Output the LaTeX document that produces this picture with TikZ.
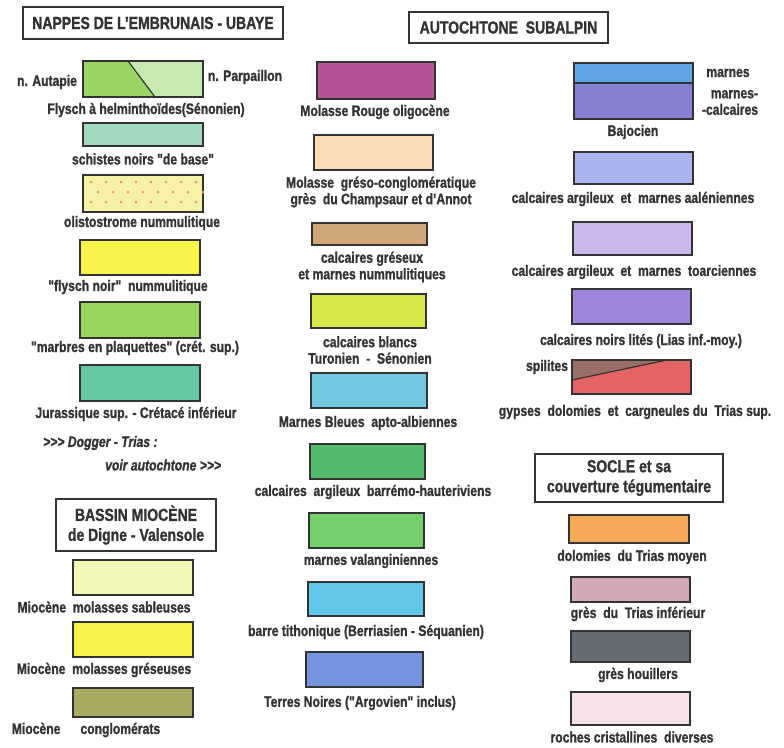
\documentclass[tikz,border=0pt]{standalone}
\usepackage{fontspec}
\setmainfont[FakeStretch=0.8, BoldFeatures={FakeBold=1.2}, BoldItalicFeatures={FakeBold=1.2}]{Liberation Sans}
\newfontfamily\plainfont[FakeStretch=0.8, BoldFeatures={FakeBold=1.2}, Ligatures=ResetAll]{Liberation Sans}
\definecolor{autapie}{HTML}{9AD465}
\definecolor{parpaillon}{HTML}{C8EAB0}
\definecolor{schistes}{HTML}{A3D9BD}
\definecolor{olisto}{HTML}{F8F2A8}
\definecolor{olistodot}{HTML}{EE9A50}
\definecolor{flyschnoir}{HTML}{F8F54A}
\definecolor{marbres}{HTML}{97D55F}
\definecolor{jurassique}{HTML}{66C7A3}
\definecolor{molrouge}{HTML}{B4559A}
\definecolor{molgreso}{HTML}{F8DDB8}
\definecolor{calcgres}{HTML}{D0A77A}
\definecolor{calcblancs}{HTML}{DBE84C}
\definecolor{marnesbleues}{HTML}{74C9E2}
\definecolor{barremo}{HTML}{52BA6A}
\definecolor{valangin}{HTML}{74D06A}
\definecolor{tithon}{HTML}{62C8EA}
\definecolor{terresnoires}{HTML}{7494DE}
\definecolor{bajotop}{HTML}{5EA6E4}
\definecolor{bajobot}{HTML}{8580D4}
\definecolor{aalen}{HTML}{AAB4EF}
\definecolor{toarc}{HTML}{CBB6EE}
\definecolor{calcnoirs}{HTML}{A084DC}
\definecolor{spilbrun}{HTML}{9A6E68}
\definecolor{triasrouge}{HTML}{E46464}
\definecolor{dolomies}{HTML}{F5AA58}
\definecolor{gresinf}{HTML}{D2A8B6}
\definecolor{houiller}{HTML}{646C74}
\definecolor{cristal}{HTML}{F6E0EA}
\definecolor{miosable}{HTML}{F3F7B6}
\definecolor{miogres}{HTML}{F6F44A}
\definecolor{congl}{HTML}{AAAA62}
\definecolor{ink}{HTML}{333333}
\newcommand{\dq}{{\plainfont\bfseries"}}
\begin{document}
\begin{tikzpicture}[x=1pt, y=-1pt,
    swatch/.style={draw=ink, line width=1.8pt},
    lbl/.style={text=ink, inner sep=0pt, font=\bfseries\fontsize{15.2}{16.5}\selectfont, align=center},
    titlebox/.style={draw=ink, line width=1.3pt, text=ink, inner sep=0pt, align=center,
        font=\bfseries\fontsize{17.5}{20}\selectfont}]
    \useasboundingbox (0,0) rectangle (784,747);
    % titres
    \node[titlebox, minimum width=260, minimum height=32] (nappes) at (153,23) {NAPPES DE L\symbol{39}EMBRUNAIS - UBAYE};
    \node[titlebox, minimum width=199, minimum height=31] (autoch) at (508.5,27.5) {AUTOCHTONE\ \ SUBALPIN};
    \node[titlebox, minimum width=160, minimum height=52] (bassin) at (136,525) {BASSIN MIOCÈNE\\de Digne - Valensole};
    \node[titlebox, minimum width=188, minimum height=48] (socle) at (629,478) {SOCLE et sa\\couverture tégumentaire};

    % nappes
    \fill[autapie] (83,61) -- (128,61) -- (155,97) -- (83,97) -- cycle;
    \fill[parpaillon] (128,61) -- (203,61) -- (203,97) -- (155,97) -- cycle;
    \draw[ink, line width=1.2pt] (128,61) -- (155,97);
    \draw[swatch] (83,61) rectangle (203,97);
    \node[lbl] (autapieL) at (47,82) {n. Autapie};
    \node[lbl] (parpL) at (245,77) {n. Parpaillon};
    \node[lbl] (flyschL) at (146,110) {Flysch à helminthoïdes(Sénonien)};
    \filldraw[swatch, fill=schistes] (83,123) rectangle (203,146);
    \node[lbl] (schistesL) at (143,159) {schistes noirs \dq de base\dq};
    \filldraw[swatch, fill=olisto] (83,175) rectangle (203,212);
    \foreach \i in {0,...,7} {
        \fill[olistodot] (91+15*\i,182) circle (1.5);
        \fill[olistodot] (98+15*\i,192) circle (1.5);
        \fill[olistodot] (91+15*\i,202) circle (1.5);
    }
    \node[lbl] (olistoL) at (142,223) {olistostrome nummulitique};
    \filldraw[swatch, fill=flyschnoir] (80,240) rectangle (200,275);
    \node[lbl] (flyschnoirL) at (128,287) {\dq flysch noir\dq\ \ nummulitique};
    \filldraw[swatch, fill=marbres] (80,302) rectangle (200,338);
    \node[lbl] (marbresL) at (135,348) {\dq marbres en plaquettes\dq\ (crét. sup.)};
    \filldraw[swatch, fill=jurassique] (80,365) rectangle (200,401);
    \node[lbl] (jurassL) at (136,414) {Jurassique sup. - Crétacé inférieur};
    \node[lbl, anchor=west, font=\bfseries\itshape\fontsize{15.2}{16.5}\selectfont] (doggerL) at (43,443) {>{}>{}> Dogger - Trias :};
    \node[lbl, anchor=west, font=\bfseries\itshape\fontsize{15.2}{16.5}\selectfont] (voirL) at (105,465) {voir autochtone >{}>{}>};

    % bassin miocene
    \filldraw[swatch, fill=miosable] (73,560) rectangle (193,595);
    \node[lbl] (sableL) at (104,607) {Miocène\ \ molasses sableuses};
    \filldraw[swatch, fill=miogres] (73,622) rectangle (193,657);
    \node[lbl] (gresL) at (104,670) {Miocène\ \ molasses gréseuses};
    \filldraw[swatch, fill=congl] (73,688) rectangle (193,717);
    \node[lbl] (conglL) at (86,730) {Miocène\hspace{20pt}conglomérats};

    % autochtone, colonne du milieu
    \filldraw[swatch, fill=molrouge] (317,62) rectangle (435,99);
    \node[lbl] (molrougeL) at (375,112) {Molasse Rouge oligocène};
    \filldraw[swatch, fill=molgreso] (314,135) rectangle (433,170);
    \node[lbl] (molgresoL) at (381,192) {Molasse\ \ gréso-conglomératique\\grès\ \ du Champsaur et d\symbol{39}Annot};
    \filldraw[swatch, fill=calcgres] (312,223) rectangle (427,245);
    \node[lbl] (calcgresL) at (372,267) {calcaires gréseux\\et marnes nummulitiques};
    \filldraw[swatch, fill=calcblancs] (311,294) rectangle (426,328);
    \node[lbl] (calcblancsL) at (370,350) {calcaires blancs\\Turonien\ \ -\ \ Sénonien};
    \filldraw[swatch, fill=marnesbleues] (311,373) rectangle (427,408);
    \node[lbl] (marnesbleuesL) at (368,423) {Marnes Bleues\ \ apto-albiennes};
    \filldraw[swatch, fill=barremo] (310,444) rectangle (425,479);
    \node[lbl] (barremoL) at (373,492) {calcaires\ \ argileux\ \ barrémo-hauteriviens};
    \filldraw[swatch, fill=valangin] (309,513) rectangle (424,548);
    \node[lbl] (valanginL) at (371,561) {marnes valanginiennes};
    \filldraw[swatch, fill=tithon] (308,582) rectangle (424,616);
    \node[lbl] (tithonL) at (366,632) {barre tithonique (Berriasien - Séquanien)};
    \filldraw[swatch, fill=terresnoires] (306,652) rectangle (423,687);
    \node[lbl] (terresL) at (360,703) {Terres Noires (\dq Argovien\dq\ inclus)};

    % autochtone, colonne de droite
    \fill[bajotop] (574,63) rectangle (693,83);
    \fill[bajobot] (574,83) rectangle (693,119);
    \draw[ink, line width=1.4pt] (574,83) -- (693,83);
    \draw[swatch] (574,63) rectangle (693,119);
    \node[lbl] (marnesL) at (728,73) {marnes};
    \node[lbl, align=right] (marcalcL) at (730,102.5) {marnes-\\-calcaires};
    \node[lbl] (bajoL) at (633,132) {Bajocien};
    \filldraw[swatch, fill=aalen] (574,152) rectangle (693,184);
    \node[lbl] (aalenL) at (633,199) {calcaires argileux\ \ et\ \ marnes aaléniennes};
    \filldraw[swatch, fill=toarc] (573,222) rectangle (692,255);
    \node[lbl] (toarcL) at (634,272) {calcaires argileux\ \ et\ \ marnes\ \ toarciennes};
    \filldraw[swatch, fill=calcnoirs] (572,289) rectangle (691,324);
    \node[lbl] (calcnoirsL) at (641,341) {calcaires noirs lités (Lias inf.-moy.)};
    \fill[triasrouge] (572,360) rectangle (691,394);
    \fill[spilbrun] (572,360) -- (667,360) -- (572,380) -- cycle;
    \draw[ink, line width=1.2pt] (572,380) -- (667,360);
    \draw[swatch] (572,360) rectangle (691,394);
    \node[lbl] (spilL) at (547,367) {spilites};
    \node[lbl] (triasupL) at (635,412) {gypses\ \ dolomies\ \ et\ \ cargneules du\ \ Trias sup.};

    % socle
    \filldraw[swatch, fill=dolomies] (569,515) rectangle (689,543);
    \node[lbl] (dolomiesL) at (632,557) {dolomies\ \ du Trias moyen};
    \filldraw[swatch, fill=gresinf] (571,577) rectangle (690,602);
    \node[lbl] (gresinfL) at (638,614) {grès\ \ du\ \ Trias inférieur};
    \filldraw[swatch, fill=houiller] (571,631) rectangle (690,662);
    \node[lbl] (houillerL) at (638,675) {grès houillers};
    \filldraw[swatch, fill=cristal] (571,692) rectangle (690,725);
    \node[lbl] (cristalL) at (632,737) {roches cristallines\ \ diverses};
\end{tikzpicture}
\end{document}
